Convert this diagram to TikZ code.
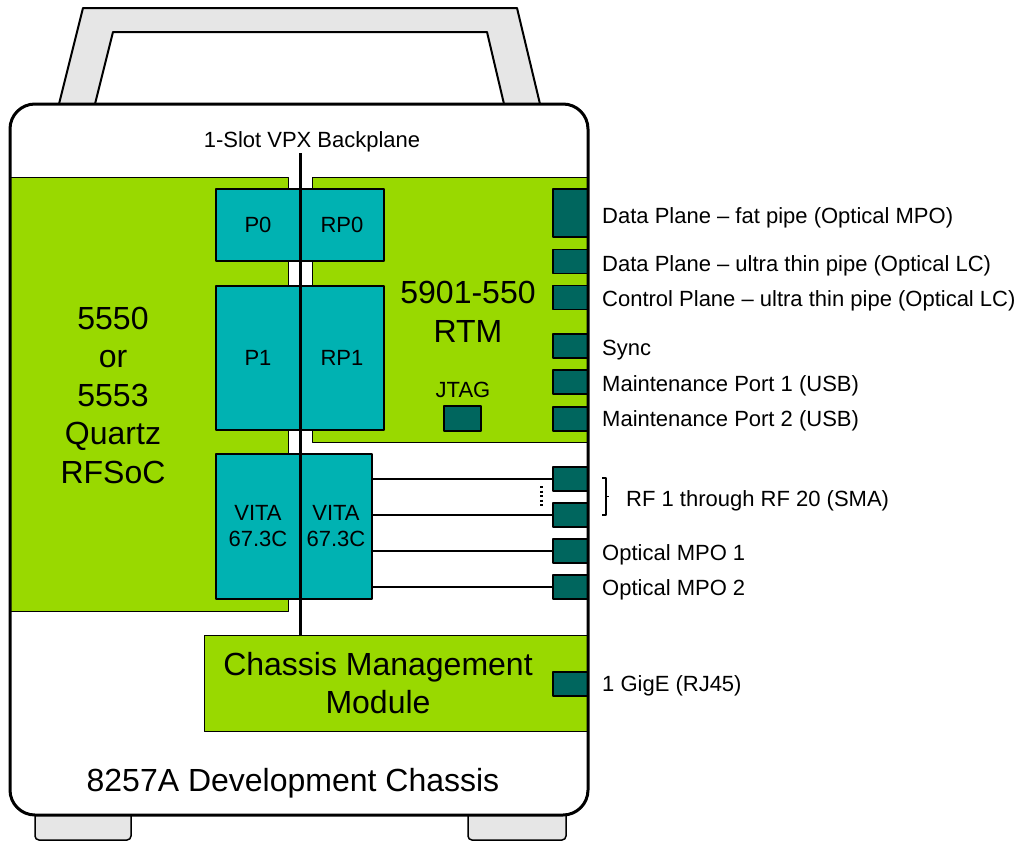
\documentclass[tikz,border=0pt]{standalone}
\usepackage{fontspec}
\setmainfont{Liberation Sans}
\usetikzlibrary{positioning}
\definecolor{boardgreen}{RGB}{153,217,0}
\definecolor{tealbox}{RGB}{0,178,178}
\definecolor{darkteal}{RGB}{0,102,94}
\definecolor{handlegray}{RGB}{230,230,230}
\newcommand\fmid{\fontsize{22}{26}\selectfont}
\newcommand\fbig{\fontsize{32}{38.5}\selectfont}
\begin{document}
\begin{tikzpicture}[x=1pt,y=-1pt,line join=round,
	board/.style={draw,line width=1pt,fill=boardgreen,inner sep=0pt},
	conn/.style={draw,line width=1.2pt,fill=tealbox,inner sep=0pt,minimum width=84pt,font=\fmid,align=center},
	jack/.style={draw,line width=1.2pt,fill=darkteal,inner sep=0pt,minimum width=35pt},
	lbl/.style={anchor=base west,inner sep=0pt,font=\fmid}]
	\useasboundingbox (0,0) rectangle (1020,841);
	% handle and feet
	\draw[line width=2pt,fill=handlegray] (59,104)--(83,8)--(517,8)--(540,104)--(504,104)--(487,32)--(113,32)--(95,104)--cycle;
	\draw[line width=1.5pt,fill=handlegray,rounded corners=4pt] (35,812)--(35,840)--(131,840)--(131,812);
	\draw[line width=1.5pt,fill=handlegray,rounded corners=4pt] (468,812)--(468,840)--(566,840)--(566,812);
	\fill[white,rounded corners=25pt] (10,104) rectangle (588,815);
	
	% boards
	\draw[board] (10,177) rectangle (288,611);
	\draw[board] (312,177) rectangle (588,442);
	\node[board,minimum width=384pt,minimum height=96pt] (cmm) at (396,683.5) {};
	\node[font=\fbig,align=center] (fpga) at (113,395) {5550\\or\\5553\\Quartz\\RFSoC};
	\node[font=\fbig,align=center] (rtm) at (468,312) {5901-550\\RTM};
	\node[font=\fbig,align=center] (cmmtxt) at (378,683) {Chassis Management\\Module};
	\node[font=\fbig] (title) at (293,783) {8257A Development Chassis};
	
	% backplane connectors
	\node[conn,minimum height=72pt] (p0) at (258,225) {P0};
	\node[conn,minimum height=72pt] (rp0) at (342,225) {RP0};
	\node[conn,minimum height=144pt] (p1) at (258,358) {P1};
	\node[conn,minimum height=144pt] (rp1) at (342,358) {RP1};
	\node[conn,minimum height=145pt] (vitaL) at (258,526.5) {VITA\\67.3C};
	\node[conn,minimum height=145pt,minimum width=72pt] (vitaR) at (336,526.5) {VITA\\67.3C};
	
	\node[font=\fmid] (bplbl) at (312,142) {1-Slot VPX Backplane};
	\coordinate (bptop) at (300,153);
	\draw[line width=3pt] (bptop)--(bptop |- cmm.north);
	
	% front panel
	\node[jack,minimum height=48pt] (dpfat) at (570.5,213) {};
	\node[jack,minimum height=24pt] (dpthin) at (570.5,261.5) {};
	\node[jack,minimum height=24pt] (cpthin) at (570.5,297.5) {};
	\node[jack,minimum height=24pt] (sync) at (570.5,346) {};
	\node[jack,minimum height=24pt] (mp1) at (570.5,382) {};
	\node[jack,minimum height=24pt] (mp2) at (570.5,419) {};
	\node[jack,minimum height=24pt] (rf1) at (570.5,479) {};
	\node[jack,minimum height=24pt] (rf20) at (570.5,515) {};
	\node[jack,minimum height=24pt] (mpo1) at (570.5,551) {};
	\node[jack,minimum height=24pt] (mpo2) at (570.5,587) {};
	\node[jack,minimum height=24pt] (gige) at (570.5,684) {};
	\node[jack,minimum height=25pt,minimum width=37pt] (jtag) at (462.5,418.5) {};
	\node[font=\fmid] (jtaglbl) at (463,390) {JTAG};
	
	\foreach \j in {rf1,rf20,mpo1,mpo2}
		\draw[line width=1.2pt] (vitaR.east |- \j.west)--(\j.west);
	\draw[line width=3pt,dash pattern=on 2pt off 2.5pt] (541,486)--(541,507);
	\draw[line width=1.2pt] (602,478)--(606,478)--(606,515)--(602,515) (606,496.5)--(609,496.5);
	
	\draw[line width=3pt,rounded corners=25pt] (10,104) rectangle (588,815);
	
	\node[lbl] (dpfatlbl) at (602,223) {Data Plane -- fat pipe (Optical MPO)};
	\node[lbl] (dpthinlbl) at (602,271) {Data Plane -- ultra thin pipe (Optical LC)};
	\node[lbl] (cplbl) at (602,306) {Control Plane -- ultra thin pipe (Optical LC)};
	\node[lbl] (synclbl) at (602,355) {Sync};
	\node[lbl] (mp1lbl) at (602,391) {Maintenance Port 1 (USB)};
	\node[lbl] (mp2lbl) at (602,426) {Maintenance Port 2 (USB)};
	\node[lbl] (rflbl) at (626,506) {RF 1 through RF 20 (SMA)};
	\node[lbl] (mpo1lbl) at (602,560) {Optical MPO 1};
	\node[lbl] (mpo2lbl) at (602,595) {Optical MPO 2};
	\node[lbl] (gigelbl) at (602,691) {1 GigE (RJ45)};
\end{tikzpicture}
\end{document}
